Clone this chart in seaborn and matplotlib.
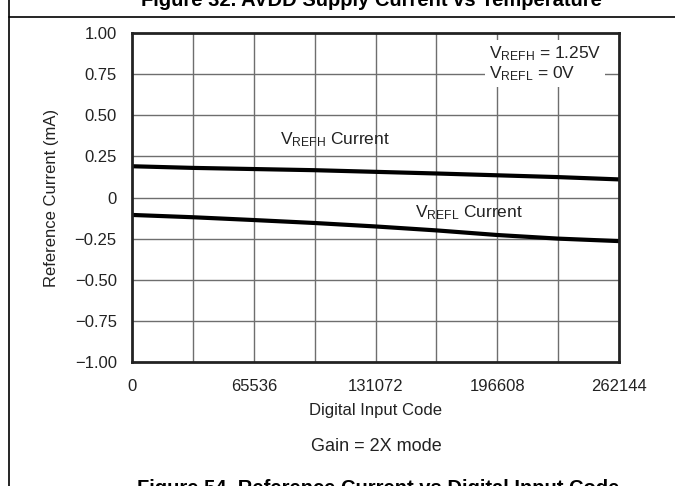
import matplotlib
matplotlib.use("Agg")
import matplotlib.pyplot as plt
import seaborn as sns
import pandas as pd
from matplotlib.lines import Line2D

sns.set_theme(style="white")
plt.rcParams["font.family"] = ["Liberation Sans", "DejaVu Sans"]
plt.rcParams["mathtext.fontset"] = "custom"
plt.rcParams["mathtext.rm"] = "Liberation Sans"
plt.rcParams["mathtext.it"] = "Liberation Sans"

# Reference current readings vs digital input code
codes = [0, 32768, 65536, 98304, 131072, 163840, 196608, 229376, 262144]
vrefh_ma = [0.190, 0.180, 0.173, 0.166, 0.156, 0.146, 0.135, 0.124, 0.110]
vrefl_ma = [-0.106, -0.120, -0.137, -0.155, -0.176, -0.200, -0.228, -0.250, -0.265]

x_ticks = [0, 65536, 131072, 196608, 262144]
x_ticklabels = ["0", "65536", "131072", "196608", "262144"]
y_ticks = [1.0, 0.75, 0.5, 0.25, 0.0, -0.25, -0.5, -0.75, -1.0]
y_ticklabels = ["1.00", "0.75", "0.50", "0.25", "0", "\u22120.25", "\u22120.50", "\u22120.75", "\u22121.00"]

df = pd.DataFrame({
    "code": codes * 2,
    "current": vrefh_ma + vrefl_ma,
    "series": ["VREFH"] * len(codes) + ["VREFL"] * len(codes),
})

W, H = 675, 486
fig = plt.figure(figsize=(W / 100, H / 100), dpi=100)
fig.patch.set_facecolor("white")

left, right, top, bottom = 132, 619, 33, 362
ax = fig.add_axes([left / W, 1 - bottom / H, (right - left) / W, (bottom - top) / H])

sns.lineplot(data=df, x="code", y="current", units="series", estimator=None,
             color="black", linewidth=3.0, ax=ax, legend=False)

ax.set_xlim(0, 262144)
ax.set_ylim(-1.0, 1.0)

# grid every 32768 codes and every 0.25 mA
for gx in range(32768, 262144, 32768):
    ax.axvline(gx, color="#6e6e6e", linewidth=1.0, zorder=0)
for gy in [0.75, 0.5, 0.25, 0.0, -0.25, -0.5, -0.75]:
    ax.axhline(gy, color="#6e6e6e", linewidth=1.0, zorder=0)

tick_fs = 12
ax.set_xticks(x_ticks)
ax.set_xticklabels(x_ticklabels, fontsize=tick_fs)
ax.set_yticks(y_ticks)
ax.set_yticklabels(y_ticklabels, fontsize=tick_fs)
ax.tick_params(axis="both", length=0, colors="#222222")
ax.tick_params(axis="x", pad=12)
ax.tick_params(axis="y", pad=11)
ax.set_xlabel("Digital Input Code", fontsize=12, color="#222222", labelpad=7)
ax.set_ylabel("Reference Current (mA)", fontsize=12, color="#222222", labelpad=11)

for s in ax.spines.values():
    s.set_visible(True)
    s.set_color("#222222")
    s.set_linewidth(2.0)

ax.text(79660, 0.35, r"$\mathregular{V_{REFH}}$ Current", fontsize=12.5,
        ha="left", va="center", color="#222222")
ax.text(152300, -0.09, r"$\mathregular{V_{REFL}}$ Current", fontsize=12.5,
        ha="left", va="center", color="#222222")
ax.text(192000, 0.93, r"$\mathregular{V_{REFH}}$ = 1.25V" "\n" r"$\mathregular{V_{REFL}}$ = 0V",
        fontsize=12.5, ha="left", va="top", multialignment="left", color="#222222",
        linespacing=1.1, bbox=dict(facecolor="white", edgecolor="none", pad=3))

fig.text(376 / W, 1 - 446 / H, "Gain = 2X mode", fontsize=13, ha="center", va="center",
         color="#222222")

# page frame and headings around the figure
fig.add_artist(Line2D([9 / W, 9 / W], [0, 1], transform=fig.transFigure,
                      color="black", linewidth=1.2))
fig.add_artist(Line2D([9 / W, 1], [1 - 17 / H, 1 - 17 / H], transform=fig.transFigure,
                      color="black", linewidth=1.2))
fig.text(371 / W, 1 - 6 / H, "Figure 32. AVDD Supply Current vs Temperature",
         fontsize=14.5, fontweight="bold", ha="center", va="baseline", color="black")
fig.text(378 / W, 1 - 479 / H, "Figure 54. Reference Current vs Digital Input Code",
         fontsize=14.5, fontweight="bold", ha="center", va="top", color="black")

fig.savefig("out.png", dpi=100)
